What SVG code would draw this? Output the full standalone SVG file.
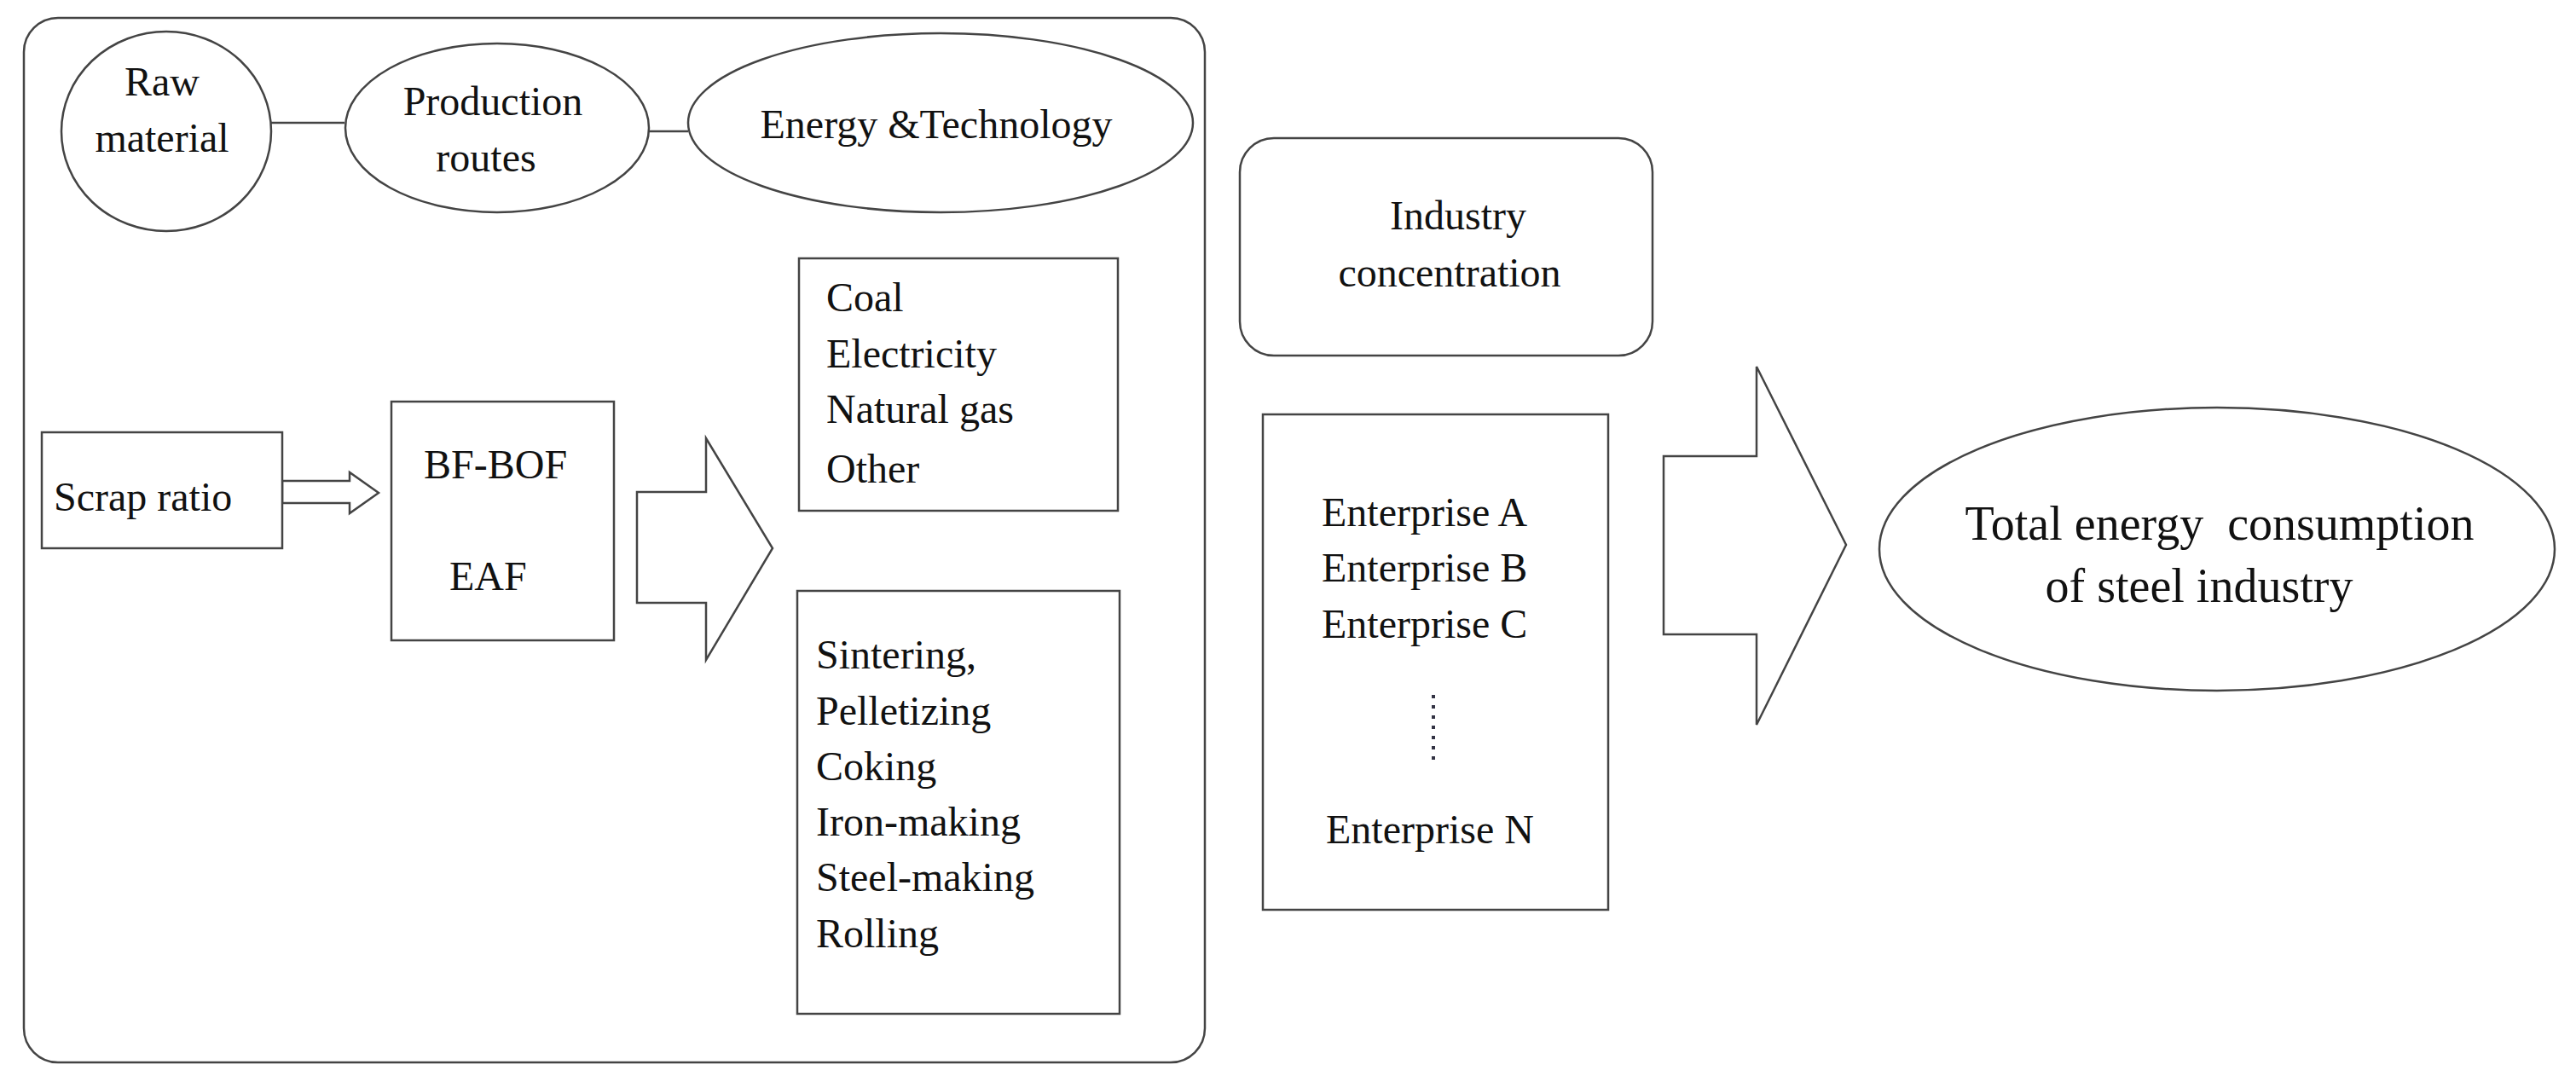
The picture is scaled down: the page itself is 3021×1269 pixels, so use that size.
<svg xmlns="http://www.w3.org/2000/svg" width="3021" height="1269" viewBox="0 0 3021 1269">
<style>
.s{fill:#fff;stroke:#444;stroke-width:2.5}
.l{fill:none;stroke:#444;stroke-width:2.5}
text{font-family:"Liberation Serif","Times New Roman",serif;font-size:48px;fill:#111}
.c{text-anchor:middle}
.b{font-size:56px}
</style>
<rect width="3021" height="1269" fill="#fff"/>
<g id="frame"><rect class="s" x="28" y="21" width="1385" height="1225" rx="40"/></g>
<g id="connectors">
<line class="l" x1="317" y1="144" x2="404" y2="144"/>
<line class="l" x1="761" y1="154" x2="807" y2="154"/>
<polygon class="s" points="331,564 410,564 410,554 444,578 410,602 410,590 331,590"/>
<polygon class="s" points="747,577 828,577 828,514 906,643 828,774 828,707 747,707"/>
<polygon class="s" points="1951,535 2060,535 2060,430 2165,639 2060,850 2060,744 1951,744"/>
</g>
<g id="raw"><ellipse class="s" cx="195" cy="154" rx="123" ry="117"/>
<text class="c" x="190" y="112">Raw</text><text class="c" x="190" y="178">material</text></g>
<g id="routes"><ellipse class="s" cx="583" cy="150" rx="178" ry="99"/>
<text class="c" x="578" y="135">Production</text><text class="c" x="570" y="201">routes</text></g>
<g id="energy"><ellipse class="s" cx="1103" cy="144" rx="296" ry="105"/>
<text class="c" x="1098" y="162">Energy &amp;Technology</text></g>
<g id="fuels"><rect class="s" x="937" y="303" width="374" height="296"/>
<text x="969" y="365">Coal</text><text x="969" y="431">Electricity</text><text x="969" y="496">Natural gas</text><text x="969" y="566">Other</text></g>
<g id="scrap"><rect class="s" x="49" y="507" width="282" height="136"/>
<text x="63" y="599">Scrap ratio</text></g>
<g id="routesbox"><rect class="s" x="459" y="471" width="261" height="280"/>
<text x="497" y="561">BF-BOF</text><text x="527" y="692">EAF</text></g>
<g id="processes"><rect class="s" x="935" y="693" width="378" height="496"/>
<text x="957" y="784">Sintering,</text><text x="957" y="850">Pelletizing</text><text x="957" y="915">Coking</text><text x="957" y="980">Iron-making</text><text x="957" y="1045">Steel-making</text><text x="957" y="1111">Rolling</text></g>
<g id="industry"><rect class="s" x="1454" y="162" width="484" height="255" rx="40"/>
<text class="c" x="1710" y="269">Industry</text><text class="c" x="1700" y="336">concentration</text></g>
<g id="enterprises"><rect class="s" x="1481" y="486" width="405" height="581"/>
<text x="1550" y="617">Enterprise A</text><text x="1550" y="682">Enterprise B</text><text x="1550" y="748">Enterprise C</text>
<line x1="1681" y1="815" x2="1681" y2="898" stroke="#334" stroke-width="4" stroke-dasharray="4,8"/>
<text x="1555" y="989">Enterprise N</text></g>
<g id="total"><ellipse class="s" cx="2600" cy="644" rx="396" ry="166"/>
<text class="c b" x="2603" y="633" xml:space="preserve">Total energy  consumption</text><text class="c b" x="2579" y="706">of steel industry</text></g>
</svg>
